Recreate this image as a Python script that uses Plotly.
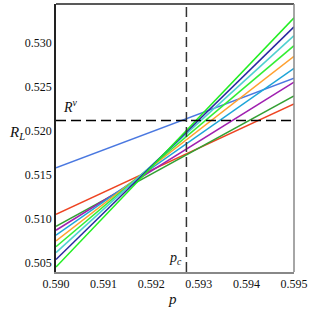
import plotly.graph_objects as go

p_vals = [0.590, 0.595]
series_names = ["L1", "L2", "L3", "L4", "L5", "L6", "L7", "L8", "L9", "L10"]
series_left = [0.51576, 0.51049, 0.50912, 0.50867, 0.50810, 0.50745, 0.50681, 0.50613, 0.50534, 0.50450]
series_right = [0.52594, 0.52302, 0.52393, 0.52549, 0.52704, 0.52841, 0.52962, 0.53076, 0.53175, 0.53278]
colors = ["#4a78e0", "#ee4422", "#33a033", "#a020b0", "#1ea5d8",
          "#ffa030", "#33ee33", "#50d0d0", "#2a2aa0", "#22ee22"]
p_c = 0.59274
R_v = 0.52114
x_ticks = [0.590, 0.591, 0.592, 0.593, 0.594, 0.595]
y_ticks = [0.505, 0.510, 0.515, 0.520, 0.525, 0.530]
x_range = [0.590, 0.595]
y_range = [0.50393, 0.53435]

fig = go.Figure()
for name, a, b, c in zip(series_names, series_left, series_right, colors):
    fig.add_trace(go.Scatter(x=p_vals, y=[a, b], mode="lines", name=name,
                             line=dict(color=c, width=1.5), showlegend=False))

fig.add_trace(go.Scatter(x=x_range, y=[R_v, R_v], mode="lines", showlegend=False,
                         line=dict(color="black", width=1.5, dash="10px,5px")))
fig.add_trace(go.Scatter(x=[p_c, p_c], y=y_range, mode="lines", showlegend=False,
                         line=dict(color="#333333", width=1.5, dash="10px,5px")))

font = dict(family="Liberation Serif", size=12, color="#111111")
fig.update_layout(
    width=310, height=310,
    margin=dict(l=56, r=16, t=4, b=38, autoexpand=False),
    paper_bgcolor="white", plot_bgcolor="white",
    font=font,
    xaxis=dict(range=x_range, tickvals=x_ticks, tickformat=".3f", showgrid=False,
               zeroline=False, showline=True, linecolor="#888888", linewidth=1.5,
               mirror=False, ticks="", automargin=False),
    yaxis=dict(range=y_range, tickvals=y_ticks, tickformat=".3f", showgrid=False,
               zeroline=False, showline=True, linecolor="#222222", linewidth=1.5,
               ticks="", automargin=False),
    shapes=[
        dict(type="line", xref="paper", yref="paper", x0=0, x1=1, y0=1, y1=1,
             line=dict(color="#222222", width=1.5)),
        dict(type="line", xref="paper", yref="paper", x0=1, x1=1, y0=0, y1=1,
             line=dict(color="#888888", width=1.5)),
    ],
    annotations=[
        dict(text="<i>R</i><sub><i>L</i></sub>", xref="paper", yref="paper",
             x=-0.165, y=0.52, xanchor="center", yanchor="middle", showarrow=False,
             font=dict(family="Liberation Serif", size=15, color="#111111")),
        dict(text="<i>p</i>", xref="paper", yref="paper", x=0.49, y=-0.1,
             xanchor="center", yanchor="middle", showarrow=False,
             font=dict(family="Liberation Serif", size=15, color="#111111")),
        dict(text="<i>R</i><sup><i>v</i></sup>", xref="x", yref="y", x=0.5901, y=0.5228,
             xanchor="left", yanchor="middle", showarrow=False,
             font=dict(family="Liberation Serif", size=14, color="#111111")),
        dict(text="<i>p</i><sub><i>c</i></sub>", xref="x", yref="y", x=p_c - 0.00005, y=0.5055,
             xanchor="right", yanchor="middle", showarrow=False,
             font=dict(family="Liberation Serif", size=14, color="#111111")),
    ],
)

fig.write_html("out.html", config={"displayModeBar": False},
               post_script="document.body.style.margin='0';")
